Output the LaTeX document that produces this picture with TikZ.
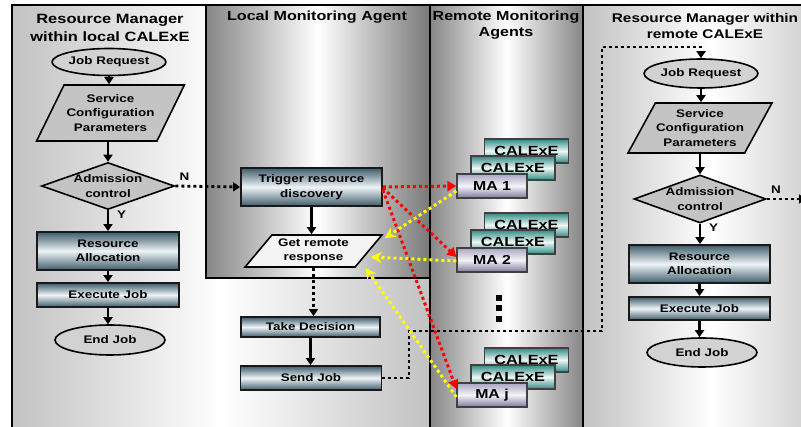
\documentclass[tikz,border=0pt]{standalone}
\usepackage{fontspec}
\setmainfont{Liberation Sans}[FakeStretch=1.22]
\usepackage{tikz}
\usetikzlibrary{positioning,arrows.meta,shapes.geometric}
\definecolor{calpanel}{HTML}{C2C2C2}
\definecolor{calagent}{HTML}{868686}
\definecolor{calprocdark}{HTML}{3E5C6A}
\definecolor{calproclight}{HTML}{EEF4F6}
\definecolor{calshape}{HTML}{C4C4C4}
\definecolor{calellipse}{HTML}{D2D2D2}
\definecolor{calreply}{HTML}{F4F4F4}
\definecolor{calmatop}{HTML}{A9A6C2}
\definecolor{calmadark}{HTML}{7C7898}
\definecolor{calmalight}{HTML}{F4F3F8}
\definecolor{calteal}{HTML}{2F8A82}
\definecolor{caltealight}{HTML}{EEF8F6}
\definecolor{calyellow}{HTML}{FFFF00}
\definecolor{calred}{HTML}{FF0000}

\begin{document}
\begin{tikzpicture}[x=1pt,y=-1pt,
  font=\bfseries\fontsize{11}{14.5}\selectfont,
  panel/.style={draw=black,line width=2pt},
  paneltitle/.style={align=center,inner sep=0pt,font=\bfseries\fontsize{13.2}{16.5}\selectfont},
  terminal/.style={ellipse,draw=black,line width=1.6pt,fill=calellipse,inner sep=0pt},
  datain/.style={trapezium,trapezium stretches=true,draw=black,line width=1.6pt,fill=calshape,inner sep=0pt,align=center},
  decision/.style={diamond,draw=black,line width=1.6pt,fill=calshape,inner sep=0pt},
  dectext/.style={align=center,inner sep=0pt},
  procbox/.style={draw=black!90,line width=1.8pt,top color=calprocdark,bottom color=calprocdark,middle color=calproclight,inner sep=0pt,align=center},
  mabox/.style={draw=black!75,line width=1.2pt,top color=calmatop,bottom color=calmadark,middle color=calmalight,minimum width=70pt,minimum height=24pt,inner sep=0pt,font=\bfseries\fontsize{13}{13}\selectfont},
  calbox/.style={draw=black!75,line width=1.2pt,top color=calteal,bottom color=calteal,middle color=caltealight,minimum width=84pt,minimum height=24pt,inner sep=0pt,font=\bfseries\fontsize{13.3}{13}\selectfont},
  flow/.style={line width=2.4pt,-{Triangle[length=7pt,width=9pt]}},
  dotflow/.style={line width=2.8pt,dash pattern=on 3pt off 3pt,-{Triangle[length=7pt,width=9pt]}},
  discover/.style={calred,line width=3pt,dash pattern=on 3pt off 3pt,-{Triangle[length=9pt,width=10pt]}},
  reply/.style={calyellow,line width=3pt,dash pattern=on 3pt off 3pt,-{Stealth[length=11pt,width=11pt]}},
  yn/.style={inner sep=0pt,font=\bfseries\fontsize{11}{11}\selectfont}
]
\useasboundingbox (0,0) rectangle (801,427);
\clip (0,0) rectangle (801,427);
\fill[white] (0,0) rectangle (801,427);

% swim lanes
\draw[panel,left color=calpanel,right color=calpanel,middle color=white] (12,5) rectangle (430,440);
\draw[panel,left color=calpanel,right color=calpanel,middle color=white] (583,5) rectangle (840,440);
\draw[panel,left color=calagent,right color=calagent,middle color=white] (430,5) rectangle (583,440);
\draw[panel,left color=calagent,right color=calagent!90!black,middle color=white] (206,5) rectangle (430,278);

\node[paneltitle,font=\bfseries\fontsize{13.5}{18.5}\selectfont] (ttlocal) at (110,28) {Resource Manager\\within local CALExE};
\node[paneltitle] (ttlma) at (317,17) {Local Monitoring Agent};
\node[paneltitle] (ttrma) at (506,25) {Remote Monitoring\\Agents};
\node[paneltitle,font=\bfseries\fontsize{12.6}{16.5}\selectfont] (ttremote) at (705,26) {Resource Manager within\\remote CALExE};

% local resource manager
\node[terminal,minimum width=110pt,minimum height=27pt] (jr1) at (109,62) {Job Request};
\node[datain,trapezium left angle=55,trapezium right angle=125,minimum width=148pt,minimum height=56pt] (scp1) at (110.5,113) {Service\\Configuration\\Parameters};
\node[decision,minimum width=133pt,minimum height=47pt,label={[dectext]center:Admission\\control}] (adm1) at (108,186) {};
\node[procbox,minimum width=142pt,minimum height=38pt] (ra1) at (108,251) {Resource\\Allocation};
\node[procbox,minimum width=142pt,minimum height=24pt] (ej1) at (108,295) {Execute Job};
\node[terminal,minimum width=110pt,minimum height=30pt] (end1) at (110,340) {End Job};

% local monitoring agent
\node[procbox,minimum width=141pt,minimum height=38pt] (trig) at (311.5,187) {Trigger resource\\discovery};
\node[datain,fill=calreply,trapezium left angle=47,trapezium right angle=133,minimum width=137pt,minimum height=32pt] (getr) at (313.5,251) {Get remote\\response};
\node[procbox,minimum width=139pt,minimum height=20pt] (take) at (310.5,327) {Take Decision};
\node[procbox,minimum width=141pt,minimum height=24pt] (send) at (311,378) {Send Job};

% remote monitoring agents
\node[calbox] (cal1b) at (526.5,151) {CALExE};
\node[calbox] (cal1a) at (513,168) {CALExE};
\node[mabox] (ma1) at (492,186) {MA 1};
\node[calbox] (cal2b) at (526.5,225) {CALExE};
\node[calbox] (cal2a) at (513,242) {CALExE};
\node[mabox] (ma2) at (492,260) {MA 2};
\node[calbox] (caljb) at (526.5,360) {CALExE};
\node[calbox] (calja) at (513,377) {CALExE};
\node[mabox] (maj) at (492,395) {MA j};
\foreach \dy in {298,308,319} \fill (496,\dy-3) rectangle ++(6,6);

% remote resource manager
\node[terminal,minimum width=104pt,minimum height=29pt] (jr2) at (701,73.5) {Job Request};
\node[datain,trapezium left angle=54,trapezium right angle=126,minimum width=144pt,minimum height=50pt] (scp2) at (700,128) {Service\\Configuration\\Parameters};
\node[decision,minimum width=132pt,minimum height=48pt,label={[dectext]center:Admission\\control}] (adm2) at (700,199) {};
\node[procbox,minimum width=141pt,minimum height=38pt] (ra2) at (699.5,264) {Resource\\Allocation};
\node[procbox,minimum width=141pt,minimum height=23pt] (ej2) at (699.5,308.5) {Execute Job};
\node[terminal,minimum width=110pt,minimum height=29pt] (end2) at (702,352.5) {End Job};

\coordinate (hop1) at (409,331);
\coordinate (hop2) at (602,47);
\coordinate (offright) at (806,199);

% flows
\draw[flow] (jr1.south) -- (jr1.south |- scp1.north);
\draw[flow] (adm1.north |- scp1.south) -- (adm1.north);
\draw[flow] (adm1.south) -- node[yn,pos=0.2,right=8pt] {Y} (adm1.south |- ra1.north);
\draw[flow] (ra1.south) -- (ej1.north);
\draw[flow] (ej1.south) -- (ej1.south |- end1.north);
\draw[dotflow] (adm1.east) -- node[yn,pos=0,above right=4pt and 3pt] {N} (trig.west);

\draw[flow] (trig.south) -- (trig.south |- getr.north);
\draw[dotflow] (getr.south) -- (getr.south |- take.north);
\draw[flow] (take.south) -- (take.south |- send.north);
\draw[dotflow] (send.east) -| (hop1) -| (hop2) -| (jr2.north);

\draw[flow] (jr2.south) -- (jr2.south |- scp2.north);
\draw[flow] (adm2.north |- scp2.south) -- (adm2.north);
\draw[flow] (adm2.south) -- node[yn,pos=0.2,right=8pt] {Y} (adm2.south |- ra2.north);
\draw[flow] (ra2.south) -- (ra2.south |- ej2.north);
\draw[flow] (ej2.south) -- (ej2.south |- end2.north);
\draw[dotflow] (adm2.east) -- node[yn,pos=0,above right=4pt and 3pt] {N} (offright);

% discovery and replies
\draw[discover] (trig.east) -- (ma1.west);
\draw[discover] ([yshift=-1pt]trig.east) -- ([yshift=3pt]ma2.west);
\draw[discover] ([yshift=-3pt]trig.east) -- ([yshift=6pt]maj.west);
\draw[reply] ([yshift=-5pt]ma1.west) -- ([xshift=1pt,yshift=-4pt]getr.top right corner);
\draw[reply] ([yshift=-1pt]ma2.west) -- ([xshift=1pt,yshift=-6pt]getr.east);
\draw[reply] ([yshift=-2pt]maj.west) -- ([xshift=10pt]getr.bottom right corner);
\end{tikzpicture}
\end{document}
